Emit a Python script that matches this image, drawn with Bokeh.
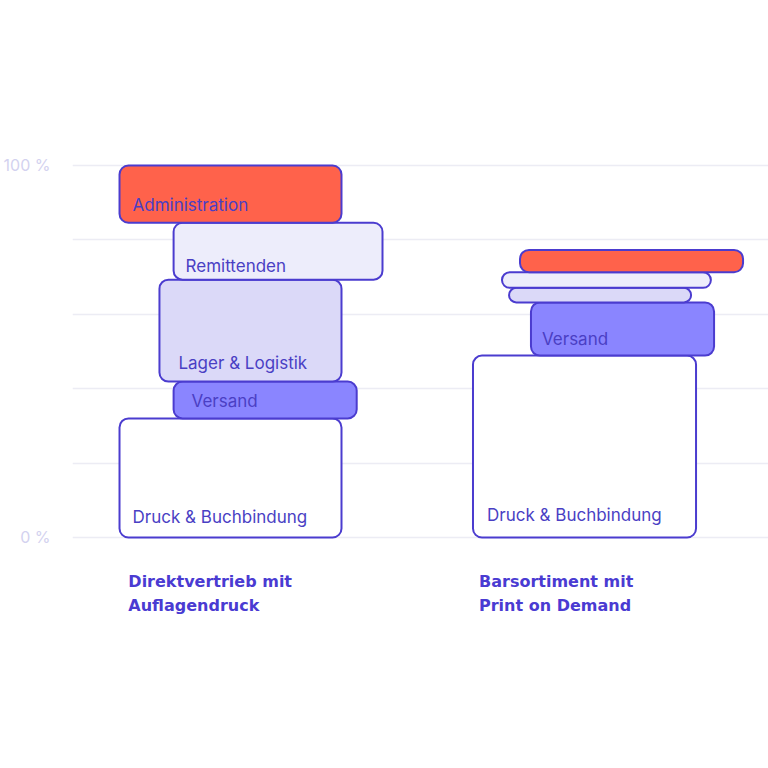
from bokeh.plotting import figure
from bokeh.models import Range1d, FixedTicker, ColumnDataSource
from bokeh.core.properties import value
from bokeh.embed import file_html
from bokeh.resources import INLINE

# ---- data ----
groups = ["Direktvertrieb mit\nAuflagendruck", "Barsortiment mit\nPrint on Demand"]
segments = ["Druck & Buchbindung", "Versand", "Lager & Logistik", "Remittenden", "Administration"]
direkt_values = [32.0, 9.9, 27.4, 15.3, 15.4]
barsortiment_values = [48.9, 14.3, 3.9, 4.2, 6.0]
direkt_labels = ["Druck & Buchbindung", "Versand", "Lager & Logistik", "Remittenden", "Administration"]
barsortiment_labels = ["Druck & Buchbindung", "Versand", "", "", ""]
y_ticks = [0, 100]
y_tick_labels = {0: "0 %", 100: "100 %"}
grid_ticks = [0, 20, 40, 60, 80, 100]

# ---- layout / style ----
group_pos = [0.0, 1.0]
seg_offset = [[0.0, 0.153, 0.113, 0.153, 0.0], [0.0, 0.164, 0.102, 0.082, 0.133]]
seg_width = [[0.628, 0.518, 0.515, 0.591, 0.628], [0.631, 0.518, 0.515, 0.591, 0.631]]
seg_fill = ["#ffffff", "#8a85ff", "#dbd9f8", "#ededfb", "#ff624b"]
label_dx = [[13, 18, 19, 12, 13], [14, 11, 0, 0, 0]]
label_dy = [[-20, -17, -19, -14, -18], [-22, -17, 0, 0, 0]]
outline = "#4b3ccf"
text_col = "#4a3fc4"
FONT = "Inter"

p = figure(width=768, height=768, output_backend="svg", toolbar_location=None,
           x_range=Range1d(-0.133, 1.836), y_range=Range1d(-62.1, 144.35),
           min_border_left=72, min_border_right=0, min_border_top=0, min_border_bottom=0,
           x_axis_location=None)
p.outline_line_color = None
p.background_fill_color = "white"
p.border_fill_color = "white"
p.xgrid.visible = False
p.ygrid.ticker = FixedTicker(ticks=grid_ticks)
p.ygrid.grid_line_color = "#ececf4"
p.ygrid.grid_line_width = 1.5

ax = p.yaxis[0]
ax.ticker = FixedTicker(ticks=y_ticks)
ax.major_label_overrides = y_tick_labels
ax.axis_line_color = None
ax.major_tick_line_color = None
ax.minor_tick_line_color = None
ax.major_tick_out = 0
ax.major_tick_in = 0
ax.minor_tick_out = 0
ax.major_label_text_color = "#d3d2ef"
ax.major_label_text_font = FONT
ax.major_label_text_font_size = "16px"
ax.major_label_standoff = 22

L, R, B, T, F, TX, TY, TT, DX, DY = [], [], [], [], [], [], [], [], [], []
for gi, vals in enumerate([direkt_values, barsortiment_values]):
    labels = [direkt_labels, barsortiment_labels][gi]
    base = 0.0
    for si, v in enumerate(vals):
        left = group_pos[gi] + seg_offset[gi][si]
        L.append(left)
        R.append(left + seg_width[gi][si])
        B.append(base)
        T.append(base + v)
        F.append(seg_fill[si])
        if labels[si]:
            TX.append(left)
            TY.append(base)
            TT.append(labels[si])
            DX.append(label_dx[gi][si])
            DY.append(label_dy[gi][si])
        base += v

src = ColumnDataSource(dict(left=L, right=R, bottom=B, top=T, fill=F))
p.quad(left="left", right="right", bottom="bottom", top="top", fill_color="fill",
       line_color=outline, line_width=2, border_radius=9, source=src)

lsrc = ColumnDataSource(dict(x=TX, y=TY, t=TT, dx=DX, dy=DY))
p.text(x="x", y="y", text="t", x_offset="dx", y_offset="dy", source=lsrc,
       text_font=value(FONT), text_font_size="17px", text_color=text_col,
       text_baseline="alphabetic", text_align="left")

# category labels
GX, GY, GT, GDY = [], [], [], []
for gi, g in enumerate(groups):
    for li, line in enumerate(g.split("\n")):
        GX.append(group_pos[gi] + (0.025 if gi == 0 else 0.017))
        GY.append(-11.8)
        GT.append(line)
        GDY.append(li * 24)
gsrc = ColumnDataSource(dict(x=GX, y=GY, t=GT, dy=GDY))
p.text(x="x", y="y", text="t", y_offset="dy", source=gsrc,
       text_font=value("DejaVu Sans"), text_font_size="16px", text_font_style="bold",
       text_color="#4a3bd2", text_baseline="alphabetic", text_align="left")

open("out.html", "w").write(file_html(p, INLINE))
